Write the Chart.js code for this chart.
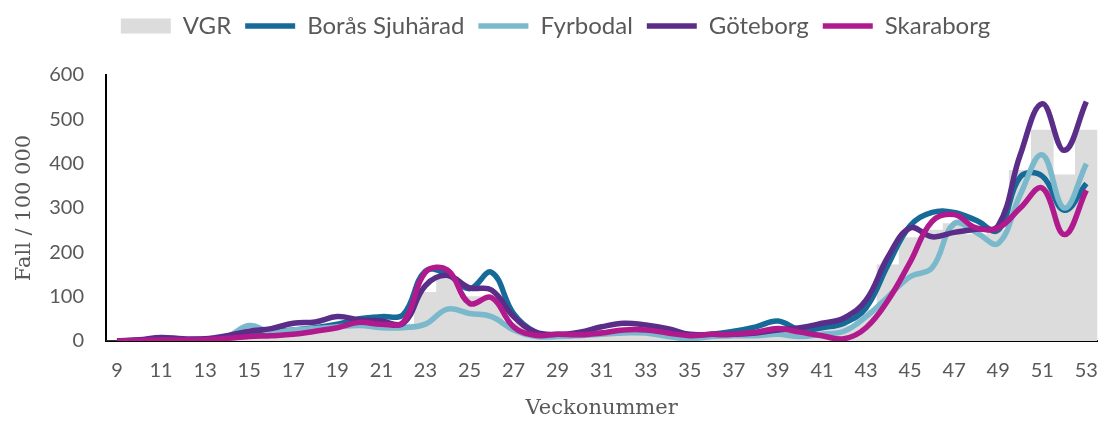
<!DOCTYPE html>
<html>
<head>
<meta charset="utf-8">
<script src="https://cdn.jsdelivr.net/npm/chart.js@4.4.1/dist/chart.umd.min.js"></script>
<style>
  html, body { margin: 0; padding: 0; background: #fff; }
  #wrap { width: 1116px; height: 421px; }
</style>
</head>
<body>
<div id="wrap"><canvas id="chart"></canvas></div>
<script>
// veckor 9..53
var weeks = [9, 10, 11, 12, 13, 14, 15, 16, 17, 18, 19, 20, 21, 22, 23, 24, 25, 26, 27, 28, 29, 30,
             31, 32, 33, 34, 35, 36, 37, 38, 39, 40, 41, 42, 43, 44, 45, 46, 47, 48, 49, 50, 51, 52, 53];

var vgr = [0, 1, 3, 3, 4, 8, 15, 18, 22, 25, 30, 35, 35, 38, 110, 145, 100, 95, 40, 15, 12, 14,
           20, 25, 25, 18, 10, 12, 15, 18, 22, 20, 25, 35, 70, 172, 233, 250, 265, 240, 250, 385, 476, 375, 476];

var boras = [0, 2, 5, 3, 4, 8, 15, 20, 25, 30, 38, 50, 55, 60, 158, 150, 118, 155, 62, 20, 12, 14,
             18, 22, 22, 15, 10, 15, 22, 32, 45, 25, 30, 40, 75, 172, 260, 290, 290, 272, 250, 370, 372, 295, 355];

var fyrbodal = [0, 1, 3, 2, 5, 10, 35, 20, 25, 28, 32, 35, 30, 30, 38, 72, 62, 55, 25, 10, 10, 12,
                15, 18, 18, 10, 5, 10, 12, 12, 15, 10, 15, 22, 55, 100, 145, 165, 265, 245, 220, 330, 420, 300, 400];

var goteborg = [0, 3, 8, 5, 5, 12, 22, 28, 40, 43, 55, 48, 45, 40, 125, 148, 120, 115, 55, 20, 15, 20,
                32, 40, 36, 28, 15, 15, 15, 18, 25, 30, 40, 52, 92, 190, 255, 235, 245, 252, 260, 420, 535, 430, 540];

var skaraborg = [0, 1, 2, 2, 3, 6, 10, 12, 15, 22, 30, 42, 38, 43, 155, 160, 85, 98, 32, 13, 15, 14,
                 18, 25, 25, 18, 12, 15, 15, 20, 28, 20, 12, 5, 30, 92, 178, 270, 285, 255, 255, 300, 345, 240, 340];

var yTicks = [0, 100, 200, 300, 400, 500, 600];

var grey = '#595959';

function lineSet(label, data, color, order) {
    return {
        type: 'line',
        label: label,
        data: data,
        borderColor: color,
        backgroundColor: color,
        borderWidth: 5.5,
        pointRadius: 0,
        pointStyle: 'line',
        tension: 0.4,
        fill: false,
        order: order
    };
}

// extra luft under legenden
var legendSpace = {
    id: 'legendSpace',
    beforeInit: function (chart) {
        var fit = chart.legend.fit;
        chart.legend.fit = function () {
            fit.bind(chart.legend)();
            this.height = 75;
        };
    }
};

new Chart(document.getElementById('chart'), {
    type: 'bar',
    data: {
        labels: weeks,
        datasets: [
            {
                type: 'bar',
                label: 'VGR',
                data: vgr,
                backgroundColor: '#dcdcdc',
                borderWidth: 0,
                barPercentage: 1,
                categoryPercentage: 1,
                pointStyle: 'rect',
                order: 10
            },
            lineSet('Borås Sjuhärad', boras, '#166a98', 4),
            lineSet('Fyrbodal', fyrbodal, '#7ab8cc', 3),
            lineSet('Göteborg', goteborg, '#5a2d88', 2),
            lineSet('Skaraborg', skaraborg, '#b01a8c', 1)
        ]
    },
    options: {
        responsive: true,
        maintainAspectRatio: false,
        animation: false,
        layout: { padding: { left: 0, right: 5, top: 0, bottom: 0 } },
        plugins: {
            legend: {
                position: 'top',
                labels: {
                    usePointStyle: true,
                    pointStyleWidth: 50,
                    boxHeight: 15,
                    padding: 14,
                    color: grey,
                    font: { family: 'Lato', size: 24 },
                    sort: function (a, b) { return a.datasetIndex - b.datasetIndex; }
                }
            },
            tooltip: { enabled: false }
        },
        scales: {
            x: {
                grid: { display: false, drawTicks: false },
                border: { display: true, color: '#000', width: 2 },
                ticks: {
                    autoSkip: false,
                    maxRotation: 0,
                    padding: 18,
                    color: grey,
                    font: { family: 'Lato', size: 20 },
                    callback: function (value, index) {
                        return index % 2 === 0 ? weeks[index] : '';
                    }
                },
                title: {
                    display: true,
                    text: 'Veckonummer',
                    color: grey,
                    font: { family: 'DejaVu Serif', size: 21 },
                    padding: { top: 0, bottom: 0 }
                },
                afterFit: function (scale) { scale.height = 80; }
            },
            y: {
                min: 0,
                max: 600,
                grid: { display: false, drawTicks: false },
                border: { display: true, color: '#000', width: 2 },
                afterBuildTicks: function (scale) {
                    scale.ticks = yTicks.map(function (v) { return { value: v }; });
                },
                ticks: {
                    padding: 22,
                    color: grey,
                    font: { family: 'Lato', size: 20 }
                },
                title: {
                    display: true,
                    text: 'Fall / 100 000',
                    color: grey,
                    font: { family: 'DejaVu Serif', size: 21 },
                    padding: { top: 12, bottom: 0 }
                },
                afterFit: function (scale) { scale.width = 106; }
            }
        }
    },
    plugins: [legendSpace]
});
</script>
</body>
</html>
